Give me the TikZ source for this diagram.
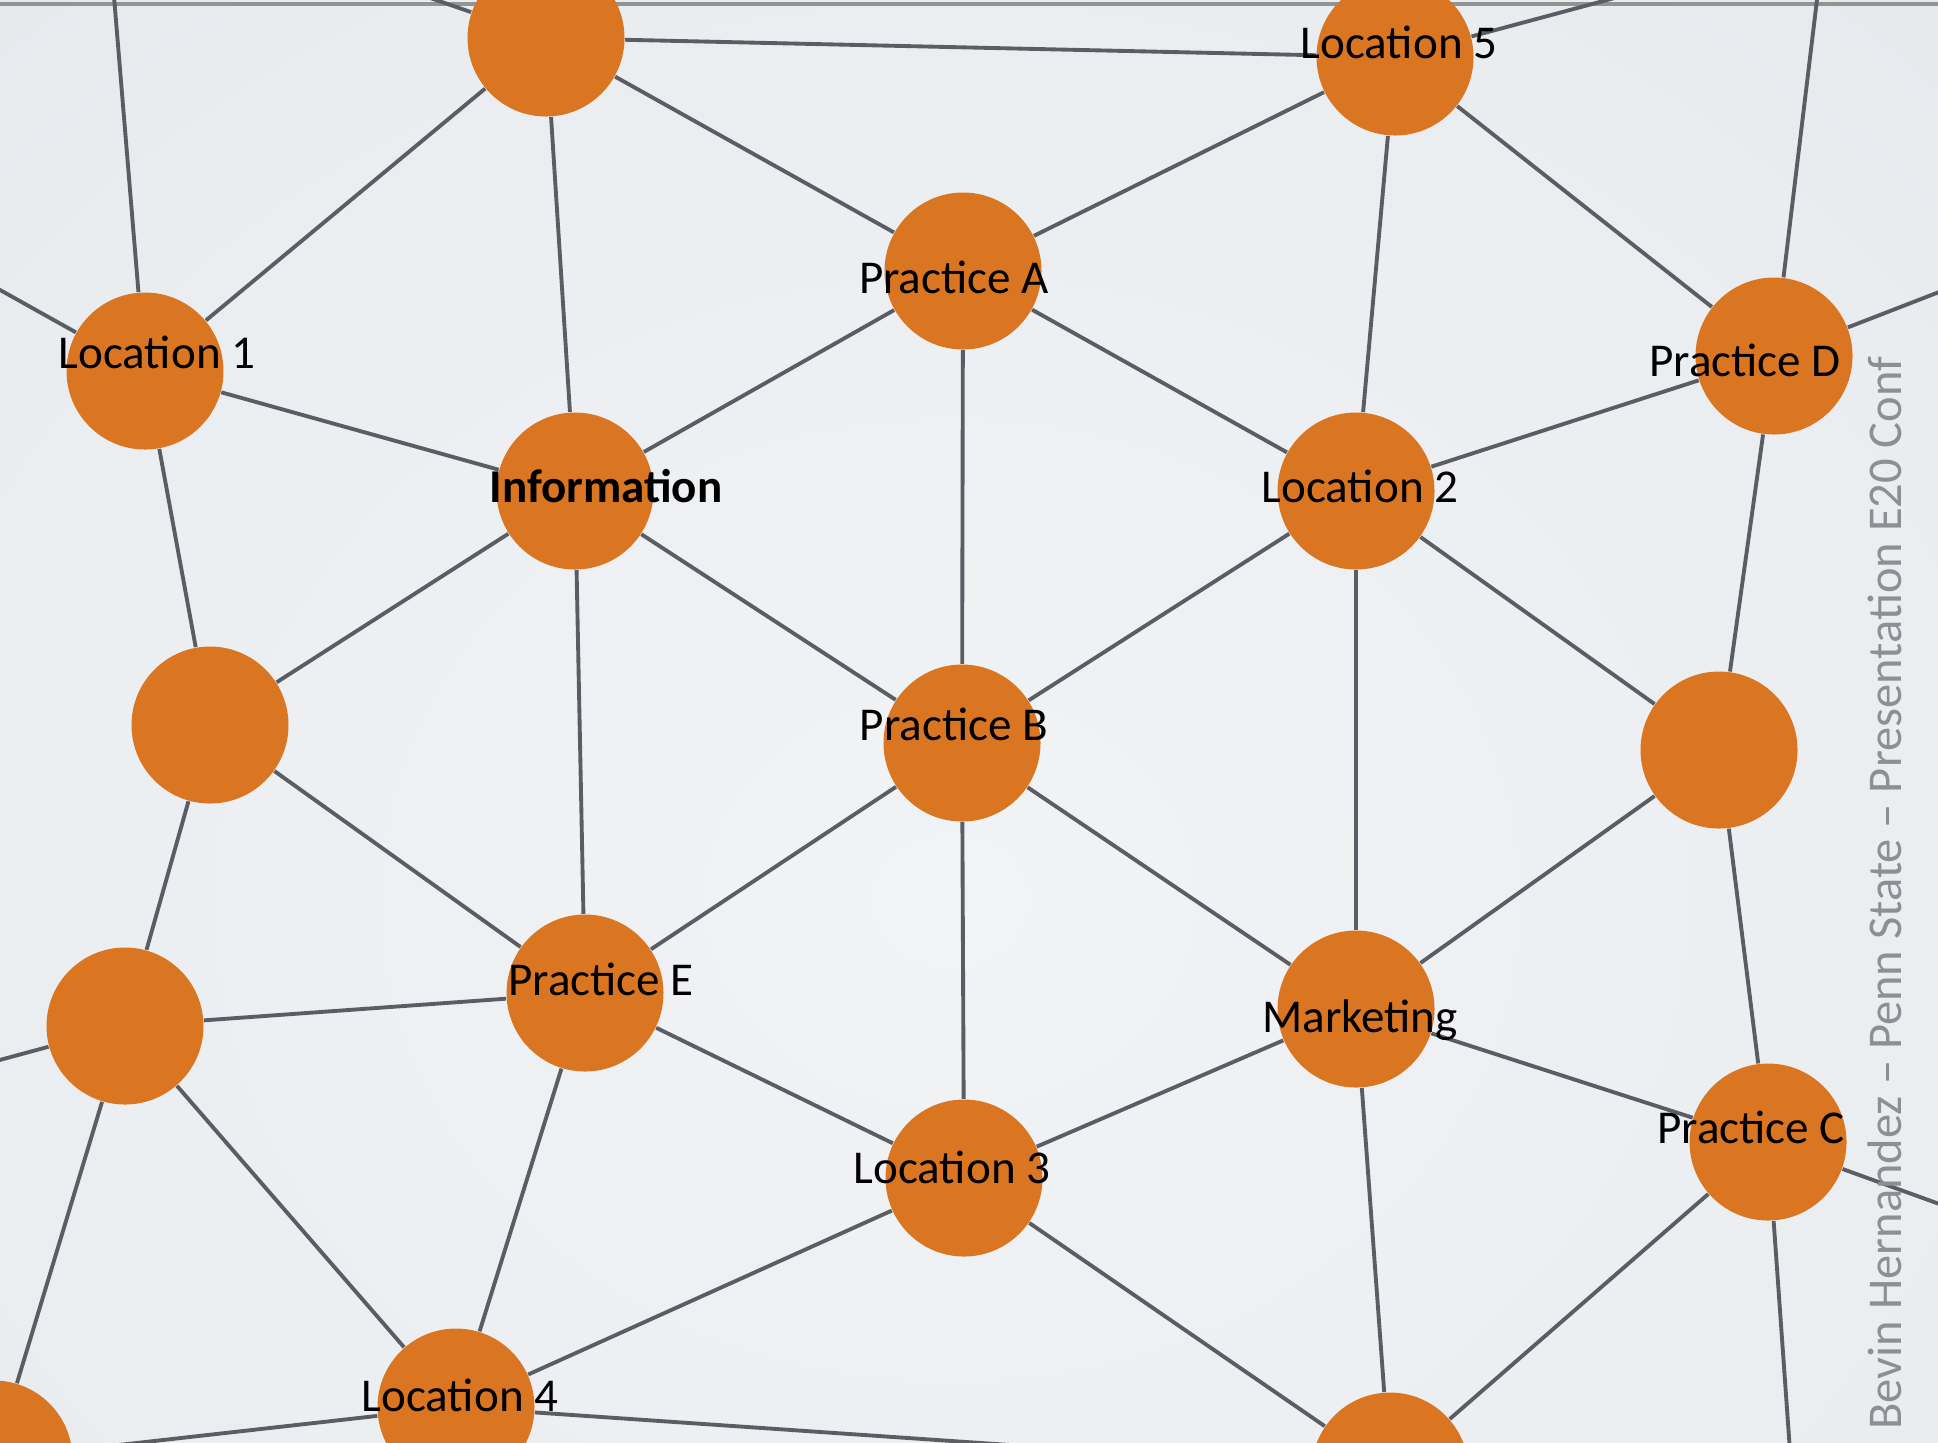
\documentclass[tikz,border=0pt]{standalone}
\usepackage{fontspec}
\setmainfont{Carlito}
\definecolor{hubfill}{HTML}{DA7622}
\definecolor{wirecol}{HTML}{5A5E64}
\definecolor{creditcol}{HTML}{8C8F93}
\definecolor{bgA}{HTML}{F1F3F5}
\definecolor{bgB}{HTML}{EAEDF0}
\definecolor{bgC}{HTML}{DEE2E6}
\definecolor{bgD}{HTML}{D4D8DD}
\pgfdeclareradialshading{bgglow}{\pgfpoint{0bp}{0bp}}{%
  color(0bp)=(bgA); color(22bp)=(bgB); color(40bp)=(bgC); color(55bp)=(bgD); color(80bp)=(bgD)}

\begin{document}
\begin{tikzpicture}[x=1cm, y=-1cm,
  hub/.style={circle, fill=hubfill, minimum size=1.57cm, inner sep=0pt},
  tag/.style={font=\fontsize{13.4}{16}\selectfont, text height=0.65em, text depth=0pt, inner sep=0pt},
  wire/.style={draw=wirecol, line width=1.1pt}]
  \useasboundingbox (0,0) rectangle (19.38,14.42);
  \clip (0,0) rectangle (19.38,14.42);
  % soft grey backdrop
  \shade[shading=bgglow] (-3.5,-2) rectangle (22.5,20);
  \draw[gray!85, line width=1pt] (0,0.04) -- (19.38,0.04);

  % network nodes
  \node[hub] (top)   at (5.46,0.38)  {};
  \node[hub] (loc5)  at (13.95,0.57) {};
  \node[hub] (pracA) at (9.63,2.71)  {};
  \node[hub] (loc1)  at (1.45,3.71)  {};
  \node[hub] (pracD) at (17.74,3.56) {};
  \node[hub] (info)  at (5.75,4.91)  {};
  \node[hub] (loc2)  at (13.56,4.91) {};
  \node[hub] (midL)  at (2.10,7.25)  {};
  \node[hub] (pracB) at (9.62,7.43)  {};
  \node[hub] (midR)  at (17.19,7.50) {};
  \node[hub] (lowL)  at (1.25,10.26) {};
  \node[hub] (pracE) at (5.85,9.93)  {};
  \node[hub] (mkt)   at (13.56,10.09) {};
  \node[hub] (pracC) at (17.68,11.42) {};
  \node[hub] (loc3)  at (9.64,11.78) {};
  \node[hub] (loc4)  at (4.56,14.07) {};
  \node[hub] (botM)  at (13.90,14.71) {};
  \node[hub] (botL)  at (-0.06,14.59) {};

  % links running off the slide
  \coordinate (offA) at (3.00,-0.47);
  \coordinate (offB) at (1.06,-1.00);
  \coordinate (offC) at (-1.00,2.34);
  \coordinate (offD) at (17.00,-0.25);
  \coordinate (offE) at (18.29,-1.00);
  \coordinate (offF) at (20.50,2.49);
  \coordinate (offG) at (-1.00,10.87);
  \coordinate (offH) at (20.50,12.44);
  \coordinate (offI) at (17.97,15.50);

  \foreach \a/\b in {top/loc5, top/pracA, top/loc1, top/info, top/offA,
      loc1/info, loc1/midL, loc1/offB, loc1/offC,
      info/pracA, info/pracB, info/midL, info/pracE,
      pracA/loc5, pracA/loc2, pracA/pracB,
      loc5/loc2, loc5/pracD, loc5/offD,
      pracD/loc2, pracD/midR, pracD/offE, pracD/offF,
      loc2/pracB, loc2/mkt, loc2/midR,
      pracB/pracE, pracB/loc3, pracB/mkt,
      midR/mkt, midR/pracC,
      midL/pracE, midL/lowL,
      pracE/lowL, pracE/loc3, pracE/loc4,
      lowL/loc4, lowL/botL, lowL/offG,
      mkt/loc3, mkt/pracC, mkt/botM,
      pracC/botM, pracC/offH, pracC/offI,
      loc3/loc4, loc3/botM,
      loc4/botL, loc4/botM}
    \draw[wire] (\a) -- (\b);

  % labels
  \node[tag] (loc5-t)  at (13.99,0.47)  {Location 5};
  \node[tag] (pracA-t) at (9.54,2.82)   {Practice A};
  \node[tag] (loc1-t)  at (1.57,3.57)   {Location 1};
  \node[tag] (pracD-t) at (17.45,3.65)  {Practice D};
  \node[tag, font=\fontsize{13.4}{16}\selectfont\bfseries] (info-t) at (6.06,4.91) {Information};
  \node[tag] (loc2-t)  at (13.60,4.91)  {Location 2};
  \node[tag] (pracB-t) at (9.54,7.29)   {Practice B};
  \node[tag] (pracE-t) at (6.01,9.84)   {Practice E};
  \node[tag] (mkt-t)   at (13.60,10.21) {Marketing};
  \node[tag] (pracC-t) at (17.51,11.32) {Practice C};
  \node[tag] (loc3-t)  at (9.52,11.72)  {Location 3};
  \node[tag] (loc4-t)  at (4.60,14.00)  {Location 4};

  \node[tag, font=\fontsize{13.8}{16}\selectfont, text=creditcol, rotate=90] (credit) at (18.90,8.93)
    {Bevin Hernandez – Penn State – Presentation E20 Conf};
\end{tikzpicture}
\end{document}
